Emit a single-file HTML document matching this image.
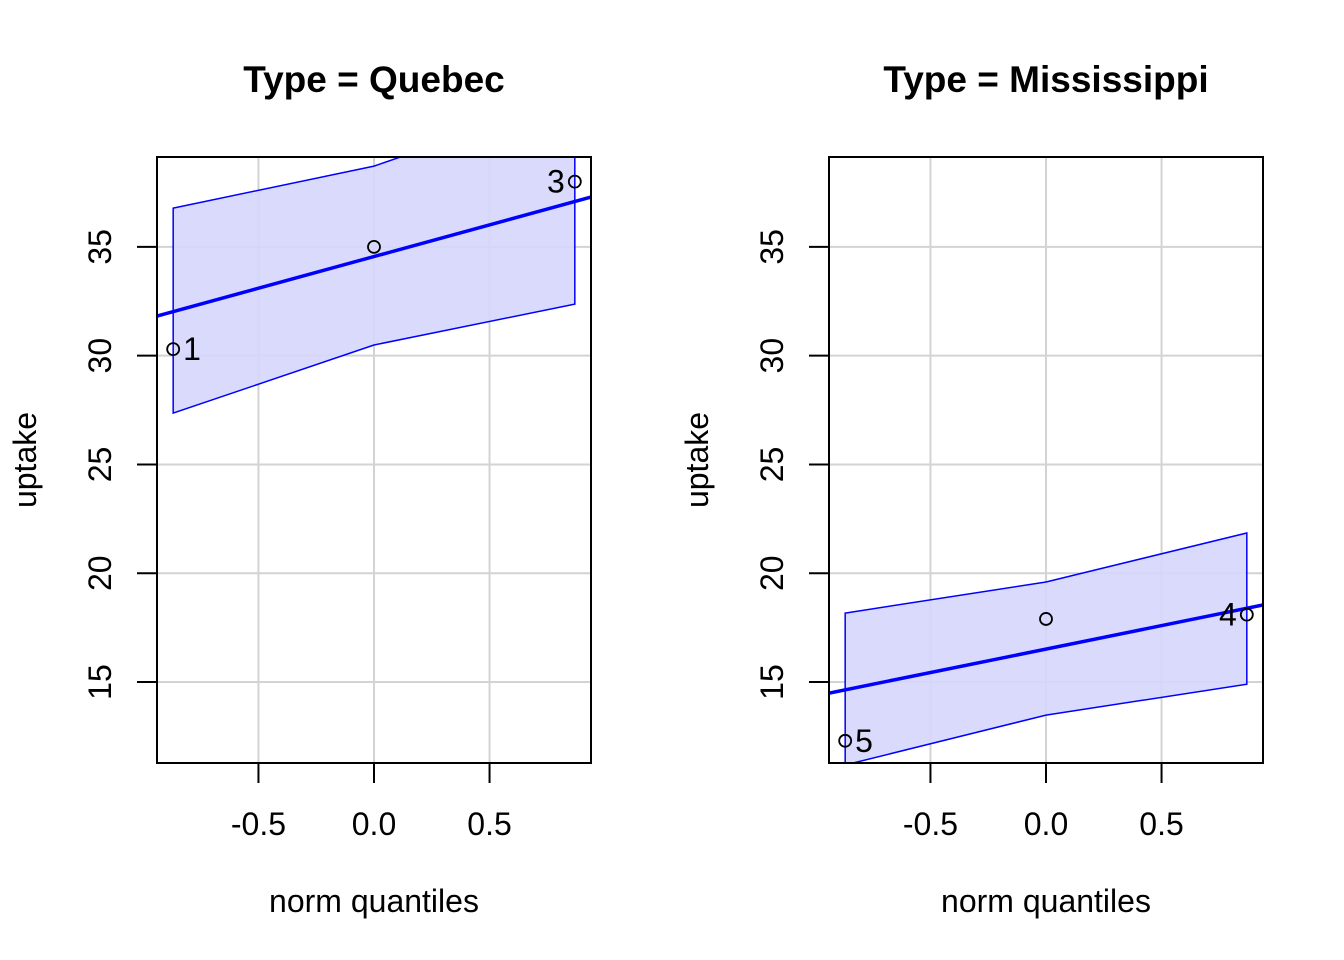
<!DOCTYPE html>
<html><head><meta charset="utf-8"><style>
html,body{margin:0;padding:0;background:#fff;}
svg{display:block;font-family:"Liberation Sans",Arial,sans-serif;}
</style></head><body>
<svg id="chart" width="1344" height="960"></svg>
<script>
const panelTitles = ["Type = Quebec", "Type = Mississippi"];
const theoQ = [-0.869, 0, 0.869];
const quebecVals = [30.3, 35.0, 38.0];
const quebecLine = [31.82, 37.29];
const quebecUpper = [36.78, 38.71, 41.9];
const quebecLower = [27.36, 30.49, 32.37];
const quebecLabels = ["1", "", "3"];
const missVals = [12.3, 17.9, 18.1];
const missLine = [14.49, 18.54];
const missUpper = [18.17, 19.6, 21.85];
const missLower = [11.19, 13.48, 14.9];
const missLabels = ["5", "", "4"];
const xTicks = [-0.5, 0, 0.5];
const xTickLabels = ["-0.5", "0.0", "0.5"];
const yTicks = [15, 20, 25, 30, 35];
const xDomain = [-0.939, 0.939];
const yDomain = [11.28, 39.13];

const NS = "http://www.w3.org/2000/svg";
const svg = document.getElementById("chart");
function mk(tag, attrs, parent, text) {
  const e = document.createElementNS(NS, tag);
  for (const k in attrs) e.setAttribute(k, attrs[k]);
  if (text !== undefined) e.textContent = text;
  (parent || svg).appendChild(e);
  return e;
}
const panels = [
  {left:157, vals:quebecVals, line:quebecLine, up:quebecUpper, lo:quebecLower, labels:quebecLabels, labelSide:[1,0,-1], id:"quebec"},
  {left:829, vals:missVals, line:missLine, up:missUpper, lo:missLower, labels:missLabels, labelSide:[1,0,-1], id:"mississippi"}
];
const plotTop = 157, plotBottom = 763, plotWidth = 434;
panels.forEach((p, i) => {
  const xs = v => p.left + (v - xDomain[0]) / (xDomain[1] - xDomain[0]) * plotWidth;
  const ys = v => plotBottom - (v - yDomain[0]) / (yDomain[1] - yDomain[0]) * (plotBottom - plotTop);
  const g = mk("g", {});
  
  
  const cx = p.left + plotWidth / 2;
  const t = mk("text", {x: cx, y: 92, "text-anchor": "middle", "font-size": 37, "font-weight": "bold"}, g, panelTitles[i]);
  
  
  const cp = mk("clipPath", {id: "clip" + i}, g);
  mk("rect", {x: p.left, y: plotTop, width: plotWidth, height: plotBottom - plotTop}, cp);
  const plot = mk("g", {"clip-path": "url(#clip" + i + ")"}, g);
  xTicks.forEach(v => {
    const l = mk("line", {x1: xs(v), x2: xs(v), y1: plotTop, y2: plotBottom, stroke: "#d3d3d3", "stroke-width": 2}, plot);
    
    
  });
  yTicks.forEach(v => {
    const l = mk("line", {x1: p.left, x2: p.left + plotWidth, y1: ys(v), y2: ys(v), stroke: "#d3d3d3", "stroke-width": 2}, plot);
    
    
  });
  let pts = theoQ.map((q, k) => xs(q) + "," + ys(p.up[k]));
  for (let k = theoQ.length - 1; k >= 0; k--) pts.push(xs(theoQ[k]) + "," + ys(p.lo[k]));
  const band = mk("polygon", {points: pts.join(" "), fill: "rgb(214,214,252)", "fill-opacity": 0.9, stroke: "#0000ff", "stroke-width": 1.5}, plot);
  
  
  const rl = mk("line", {x1: xs(xDomain[0]), y1: ys(p.line[0]), x2: xs(xDomain[1]), y2: ys(p.line[1]), stroke: "#0000ff", "stroke-width": 3.5}, plot);
  
  
  p.vals.forEach((v, k) => {
    const c = mk("circle", {cx: xs(theoQ[k]), cy: ys(v), r: 6, fill: "none", stroke: "#000", "stroke-width": 1.8}, g);
    
    
    if (p.labels[k]) {
      const s = p.labelSide[k];
      const lt = mk("text", {x: xs(theoQ[k]) + s * 10, y: ys(v) + 11, "text-anchor": s > 0 ? "start" : "end", "font-size": 32}, g, p.labels[k]);
      
      
    }
  });
  const box = mk("rect", {x: p.left, y: plotTop, width: plotWidth, height: plotBottom - plotTop, fill: "none", stroke: "#000", "stroke-width": 2}, g);
  
  
  xTicks.forEach((v, k) => {
    mk("line", {x1: xs(v), x2: xs(v), y1: plotBottom, y2: plotBottom + 20, stroke: "#000", "stroke-width": 2}, g);
    const tl = mk("text", {x: xs(v), y: 835, "text-anchor": "middle", "font-size": 32}, g, xTickLabels[k]);
    
    
  });
  yTicks.forEach(v => {
    mk("line", {x1: p.left - 20, x2: p.left, y1: ys(v), y2: ys(v), stroke: "#000", "stroke-width": 2}, g);
    const tl = mk("text", {x: 0, y: 0, "text-anchor": "middle", "font-size": 32, transform: "translate(" + (p.left - 46) + "," + ys(v) + ") rotate(-90)"}, g, String(v));
    
    
  });
  const xl = mk("text", {x: cx, y: 912, "text-anchor": "middle", "font-size": 32}, g, "norm quantiles");
  
  
  const yl = mk("text", {x: 0, y: 0, "text-anchor": "middle", "font-size": 32, transform: "translate(" + (p.left - 121) + "," + ((plotTop + plotBottom) / 2) + ") rotate(-90)"}, g, "uptake");
  
  
});
</script>
</body></html>
